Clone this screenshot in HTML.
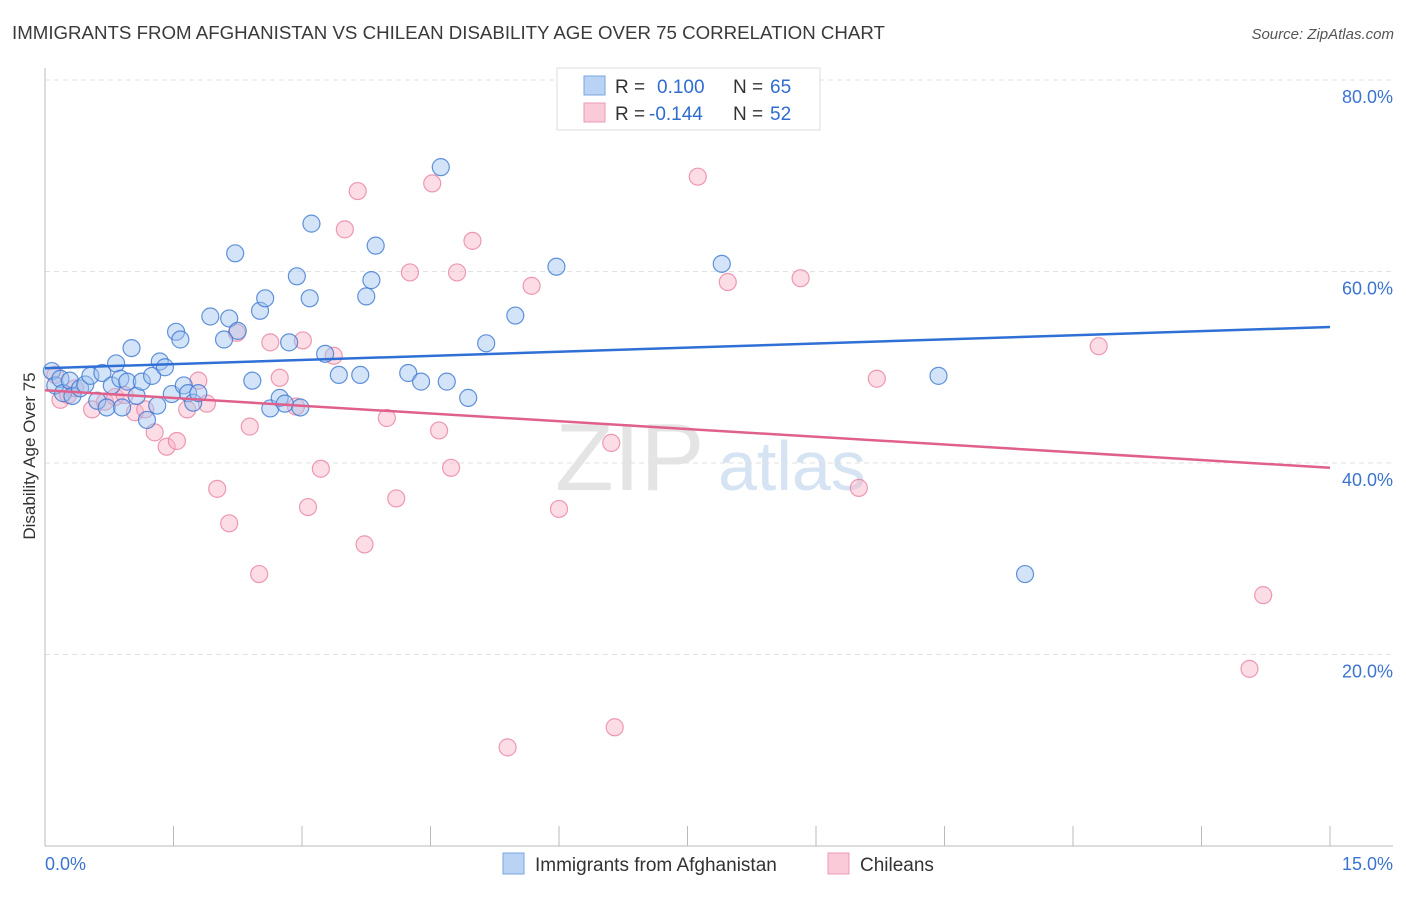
<!DOCTYPE html>
<html><head><meta charset="utf-8"><style>
body{margin:0;background:#fff;font-family:"Liberation Sans",sans-serif;}
svg text{font-family:"Liberation Sans",sans-serif;}
</style></head><body>
<svg id="chart" width="1406" height="892">
<text x="12" y="39" font-size="18.7" fill="#3a3a3a">IMMIGRANTS FROM AFGHANISTAN VS CHILEAN DISABILITY AGE OVER 75 CORRELATION CHART</text>
<text x="1394" y="39" font-size="15" fill="#555" font-style="italic" text-anchor="end">Source: ZipAtlas.com</text>
<text x="35" y="456" font-size="17" fill="#333" text-anchor="middle" transform="rotate(-90 35 456)">Disability Age Over 75</text>
<text x="555" y="490" font-size="96" fill="#e4e4e4" font-family="Liberation Serif">ZIP</text>
<text x="718" y="490" font-size="70" fill="#d6e3f3">atlas</text>
<g id="grid"></g><g id="pts"></g><g id="lines"></g>
<g>
<rect x="557" y="68" width="263" height="62" fill="#fff" stroke="#ddd"/>
<rect x="584" y="76" width="21" height="19" fill="#b9d3f5" stroke="#7aa6e0"/>
<rect x="584" y="103" width="21" height="19" fill="#fbcad8" stroke="#ee9ab4"/>
<text x="615" y="93" font-size="19" fill="#333">R = <tspan fill="#2f6ccf" x="657">0.100</tspan><tspan fill="#333" x="733">N =</tspan><tspan fill="#2f6ccf" x="770">65</tspan></text>
<text x="615" y="120" font-size="19" fill="#333">R = <tspan fill="#2f6ccf" x="649">-0.144</tspan><tspan fill="#333" x="733">N =</tspan><tspan fill="#2f6ccf" x="770">52</tspan></text>
</g>
<g>
<rect x="503" y="853" width="21" height="21" fill="#b9d3f5" stroke="#7aa6e0"/>
<text x="535" y="871" font-size="19" fill="#333">Immigrants from Afghanistan</text>
<rect x="828" y="853" width="21" height="21" fill="#fbcad8" stroke="#ee9ab4"/>
<text x="860" y="871" font-size="19" fill="#333">Chileans</text>
</g>
<text x="45" y="870" font-size="18" fill="#3b74d0">0.0%</text>
<text x="1393" y="870" font-size="18" fill="#3b74d0" text-anchor="end">15.0%</text>
</svg>
<script>
const yTicks=[20,40,60,80];
const xTickVals=[0,1.5,3,4.5,6,7.5,9,10.5,12,13.5,15];
const blueX=[0.08,0.12,0.18,0.21,0.29,0.32,0.41,0.47,0.53,0.61,0.67,0.72,0.78,0.83,0.88,0.9,0.96,1.01,1.07,1.13,1.19,1.25,1.31,1.34,1.4,1.48,1.53,1.58,1.62,1.67,1.73,1.79,1.93,2.09,2.15,2.22,2.25,2.42,2.51,2.57,2.63,2.74,2.8,2.85,2.94,2.98,3.09,3.11,3.27,3.43,3.68,3.75,3.81,3.86,4.24,4.39,4.62,4.69,4.94,5.15,5.49,5.97,7.9,10.43,11.44];
const blueY=[49.6,48.1,48.8,47.3,48.6,47.0,47.8,48.2,49.1,46.5,49.4,45.8,48.1,50.4,48.8,45.8,48.5,52.0,47.0,48.5,44.5,49.1,46.0,50.6,50.0,47.2,53.7,52.9,48.1,47.3,46.3,47.3,55.3,52.9,55.1,61.9,53.8,48.6,55.9,57.2,45.7,46.8,46.2,52.6,59.5,45.8,57.2,65.0,51.4,49.2,49.2,57.4,59.1,62.7,49.4,48.5,70.9,48.5,46.8,52.5,55.4,60.5,60.8,49.1,28.4];
const pinkX=[0.12,0.18,0.27,0.35,0.55,0.7,0.82,0.93,1.05,1.17,1.28,1.42,1.54,1.66,1.79,1.89,2.01,2.15,2.24,2.39,2.5,2.63,2.74,2.93,3.01,3.07,3.22,3.37,3.5,3.65,3.73,3.99,4.1,4.26,4.52,4.6,4.74,4.81,4.99,5.4,5.68,6.0,6.61,6.65,7.62,7.97,8.82,9.5,9.71,12.3,14.22,14.06];
const pinkY=[49.2,46.6,47.1,47.8,45.6,46.4,46.9,47.1,45.3,45.6,43.2,41.7,42.3,45.6,48.6,46.2,37.3,33.7,53.6,43.8,28.4,52.6,48.9,45.9,52.8,35.4,39.4,51.2,64.4,68.4,31.5,44.7,36.3,59.9,69.2,43.4,39.5,59.9,63.2,10.3,58.5,35.2,42.1,12.4,69.9,58.9,59.3,37.4,48.8,52.2,26.2,18.5];
const blueFit=[49.9,54.2], pinkFit=[47.6,39.5];
const NS='http://www.w3.org/2000/svg';
const sx=v=>45+v/15*1285, sy=v=>846-v/20*191.5;
function mk(t,a,p){const e=document.createElementNS(NS,t);for(const k in a)e.setAttribute(k,a[k]);p.appendChild(e);return e;}
const grid=document.getElementById('grid');
yTicks.forEach(v=>{
 const l=mk('line',{x1:45,x2:1393,y1:sy(v),y2:sy(v),stroke:'#e2e2e2','stroke-dasharray':'5,4'},grid);
 
 
 const t=mk('text',{x:1393,y:sy(v)+23,'font-size':18,fill:'#3b74d0','text-anchor':'end'},grid);
 t.textContent=v.toFixed(1)+'%';
 
 
});
const ax=mk('line',{x1:45,x2:45,y1:68,y2:846,stroke:'#bbb'},grid);


const bx=mk('line',{x1:45,x2:1393,y1:846,y2:846,stroke:'#bbb'},grid);


xTickVals.forEach(v=>{
 const l=mk('line',{x1:sx(v),x2:sx(v),y1:826,y2:846,stroke:'#bbb'},grid);
 
 
});
const pts=document.getElementById('pts');
function draw(X,Y,fill,stroke,name){X.forEach((x,i)=>{
 const c=mk('circle',{cx:sx(x),cy:sy(Y[i]),r:8.5,fill:fill,stroke:stroke,'stroke-width':1.2},pts);
 
 
});}
draw(pinkX,pinkY,'rgba(248,180,200,0.45)','rgba(232,130,160,0.8)','chileans-point');
draw(blueX,blueY,'rgba(160,195,240,0.45)','rgba(60,120,210,0.8)','afghanistan-point');
const lines=document.getElementById('lines');
const bl=mk('line',{x1:sx(0),y1:sy(blueFit[0]),x2:sx(15),y2:sy(blueFit[1]),stroke:'#2f6fd6','stroke-width':2.5},lines);


const pl=mk('line',{x1:sx(0),y1:sy(pinkFit[0]),x2:sx(15),y2:sy(pinkFit[1]),stroke:'#e0608c','stroke-width':2.5},lines);


</script>
</body></html>
